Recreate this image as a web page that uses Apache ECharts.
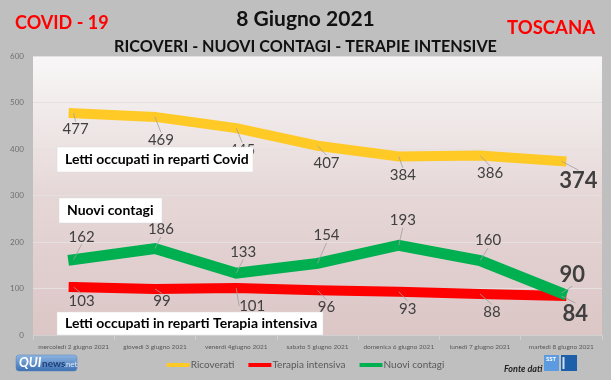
<!DOCTYPE html>
<html><head><meta charset="utf-8">
<script src="https://cdn.jsdelivr.net/npm/echarts@6/dist/echarts.min.js"></script>
<style>html,body{margin:0;padding:0;background:#bfbfbf;}#c{width:611px;height:380px;}</style>
</head><body><div id="c"></div>
<script>
const categories = ['mercoledì 2 giugno 2021','giovedì 3 giugno 2021','venerdì 4giugno 2021','sabato 5 giugno 2021','domenica 6 giugno 2021','lunedì 7 giugno 2021','martedì 8 giugno 2021'];
const ricoverati = [477, 469, 445, 407, 384, 386, 374];
const terapia = [103, 99, 101, 96, 93, 88, 84];
const contagi = [162, 186, 133, 154, 193, 160, 90];
const yTicks = [0, 100, 200, 300, 400, 500, 600];

// label nudges (pixels) relative to each point, styling only
const nudgeRic = {dx:[2,6,6,9,4,10,17], dy:[16,23,22,17,19,18,20]};
const nudgeTer = {dx:[8,7,16,9,9,12,14], dy:[14,12,18,17,17,18,18]};
const nudgeCon = {dx:[8,6,7,9,4,8,11], dy:[-23,-19,-21,-28,-25,-20,-18]};

const F = 'Lato, "Open Sans", sans-serif';
const chart = echarts.init(document.getElementById('c'), null, {renderer:'canvas'});

function mk(vals){
  return vals.map((v,i)=> i===vals.length-1
    ? {value:v, label:{fontSize:22, fontWeight:'bold', color:'#3f3f3f'}}
    : v);
}
function lineSeries(name, vals, color, width, nudge){
  return {
    name, type:'line', data: mk(vals),
    symbol:'circle', symbolSize:0.1, showSymbol:true,
    itemStyle:{color},
    lineStyle:{color, width, cap:'square', join:'miter'},
    label:{show:true, position:'inside', fontFamily:F, fontSize:15, color:'#404040'},
    labelLayout:(p)=> ({dx:nudge.dx[p.dataIndex], dy:nudge.dy[p.dataIndex]}),
    labelLine:{show:true, lineStyle:{color:'#a0a0a0', width:0.8}},
    emphasis:{disabled:true},
    animation:false
  };
}

function box(x, y, w, h, text){
  return [
    {type:'rect', zlevel:2, z:200, shape:{x, y, width:w, height:h}, style:{fill:'#ffffff', stroke:'#d9d9d9', lineWidth:0.5}},
    {type:'text', zlevel:2, z:201, x:x+8, y:y+h/2, style:{text, fill:'#000', font:'bold 14px '+F, textVerticalAlign:'middle'}}
  ];
}

chart.setOption({
  backgroundColor:'#bfbfbf',
  animation:false,
  title:[
    {text:'COVID - 19', left:10, top:9, textStyle:{fontFamily:F, fontSize:18, fontWeight:'bold', color:'#ff0000'}},
    {text:'TOSCANA', right:11, top:14, textStyle:{fontFamily:F, fontSize:18.5, fontWeight:'bold', color:'#ff0000'}},
    {text:'8 Giugno 2021', left:'center', top:4, textStyle:{fontFamily:F, fontSize:21, fontWeight:'bold', color:'#111'}},
    {text:'RICOVERI - NUOVI CONTAGI - TERAPIE INTENSIVE', left:'center', top:34, textStyle:{fontFamily:F, fontSize:16.2, fontWeight:'bold', color:'#111'}}
  ],
  grid:{left:33, right:9, top:56, bottom:45, show:true, borderWidth:0,
    backgroundColor:{type:'linear', x:0, y:0, x2:0, y2:1, colorStops:[{offset:0, color:'#f8f7f7'},{offset:0.5, color:'#e6d7d7'},{offset:1, color:'#dcc6c6'}]}},
  legend:{bottom:5, left:'center', icon:'rect', itemWidth:23, itemHeight:4, itemGap:14,
    textStyle:{fontFamily:F, fontSize:10, color:'#595959', padding:[0,0,0,-4]},
    data:['Ricoverati','Terapia intensiva','Nuovi contagi']},
  xAxis:{type:'category', data:categories, boundaryGap:true,
    axisLine:{lineStyle:{color:'#d0d0d0', width:1}},
    axisTick:{show:true, length:5, lineStyle:{color:'#d0d0d0'}},
    axisLabel:{fontFamily:F, fontSize:6.5, color:'#595959', margin:8, interval:0}},
  yAxis:{type:'value', min:yTicks[0], max:yTicks[yTicks.length-1], interval:100,
    axisLine:{show:false}, axisTick:{show:false},
    axisLabel:{fontFamily:F, fontSize:8, color:'#707070', margin:9},
    splitLine:{lineStyle:{color:'#e6dfdf', width:1}}},
  series:[
    lineSeries('Ricoverati', ricoverati, '#ffc926', 10, nudgeRic),
    lineSeries('Terapia intensiva', terapia, '#ff0000', 10, nudgeTer),
    lineSeries('Nuovi contagi', contagi, '#00b050', 11, nudgeCon)
  ],
  graphic:[].concat(
    box(57, 147, 196, 25, 'Letti occupati in reparti Covid'),
    box(59, 198, 103, 25, 'Nuovi contagi'),
    box(57, 312, 266, 23, 'Letti occupati in reparti Terapia intensiva'),
    [
      {type:'rect', z:100, shape:{x:16, y:355, width:61, height:16, r:3},
        style:{fill:{type:'linear', x:0,y:0,x2:0,y2:1, colorStops:[{offset:0,color:'#8fb6e3'},{offset:1,color:'#3b6fb3'}]}, stroke:'#5a84bf', lineWidth:0.5}},
      {type:'text', z:101, x:19, y:363, style:{text:'QUI', fill:'#ffffff', font:'italic bold 13px '+F, textVerticalAlign:'middle'}},
      {type:'text', z:101, x:42, y:364, style:{text:'news', fill:'#1f3f77', font:'bold 10px '+F, textVerticalAlign:'middle'}},
      {type:'text', z:101, x:64, y:364, style:{text:'.net', fill:'#dbe7f7', font:'8px '+F, textVerticalAlign:'middle'}},
      {type:'text', z:100, x:504, y:369, style:{text:'Fonte dati', fill:'#222', font:'italic bold 9px '+F, textVerticalAlign:'middle'}},
      {type:'rect', z:100, shape:{x:544, y:355, width:15, height:16}, style:{fill:'#5d9be0'}},
      {type:'text', z:101, x:546, y:359, style:{text:'SST', fill:'#fff', font:'bold 6px '+F, textVerticalAlign:'middle'}},
      {type:'rect', z:100, shape:{x:561, y:355, width:16, height:16}, style:{fill:'#1d5fa8'}},
      {type:'rect', z:101, shape:{x:562.5, y:357, width:2, height:12}, style:{fill:'#cfe0f5'}}
    ]
  )
});
</script></body></html>
